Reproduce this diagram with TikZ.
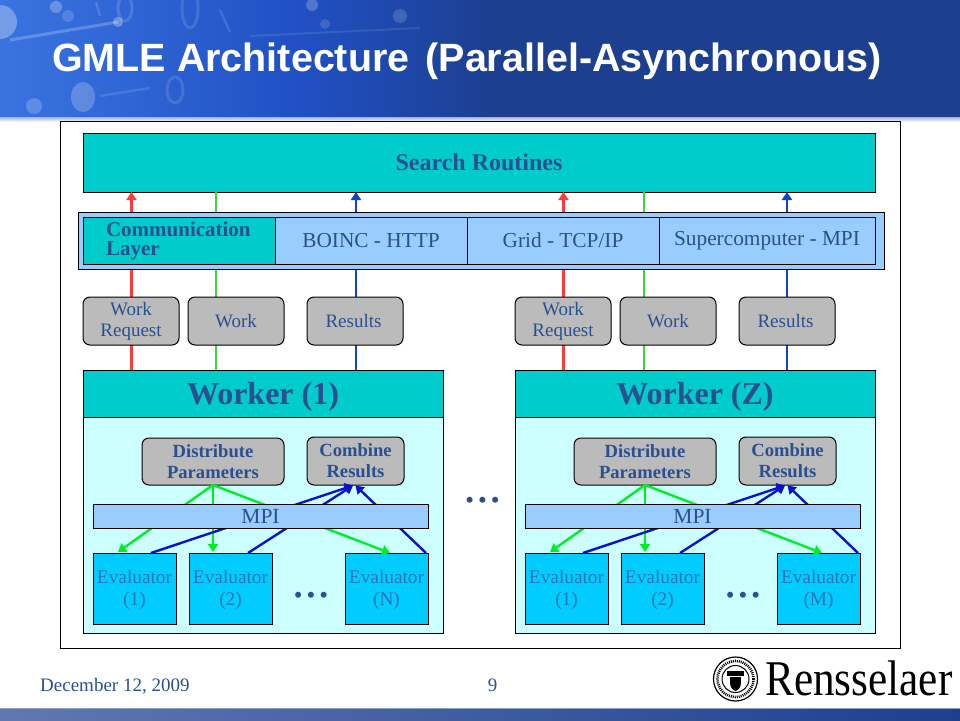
\documentclass[tikz,border=0pt]{standalone}
\usepackage{fontspec}
\setmainfont{Liberation Serif}
\newfontfamily\titlefont{Liberation Sans}
\usetikzlibrary{arrows.meta,calc,fit}
\definecolor{ink}{HTML}{2B4F8F}
\definecolor{evalink}{HTML}{2A74B8}
\definecolor{teal}{HTML}{00CCCC}
\definecolor{pale}{HTML}{CCFFFF}
\definecolor{lblue}{HTML}{99CCFF}
\definecolor{sky}{HTML}{00CCFF}
\definecolor{greybox}{HTML}{BBBBBB}
\definecolor{navy}{HTML}{1C3F8F}
\definecolor{bandleft}{HTML}{3A74E0}
\definecolor{bandmid}{HTML}{2050C4}
\definecolor{redline}{HTML}{FF3B3B}
\definecolor{greenline}{HTML}{33DD33}
\definecolor{blueline}{HTML}{1144CC}
\definecolor{greenarr}{HTML}{00EE22}
\definecolor{bluearr}{HTML}{0A10CC}
\tikzset{
  box/.style={draw=black,line width=1pt,inner sep=0pt,outer sep=0pt,anchor=north west,align=center,text=ink},
  tealbox/.style={box,fill=teal},
  cell/.style={box,fill=lblue,font=\fontsize{21.3}{24}\selectfont},
  pill/.style={box,fill=greybox,rounded corners=7pt,font=\fontsize{19}{21}\selectfont},
  boldpill/.style={pill,font=\fontsize{18.6}{21}\selectfont\bfseries},
  evalbox/.style={box,fill=sky,text=evalink,font=\fontsize{19.3}{22}\selectfont},
  body/.style={box,fill=pale},
  head/.style={tealbox,font=\fontsize{32}{34}\selectfont\bfseries},
  flow/.style={line width=2.4pt},
  tipflow/.style={line width=2.4pt,-{Triangle[length=8pt,width=10pt]}},
  dotrow/.style={text=ink,inner sep=0pt,font=\fontsize{25}{26}\selectfont}
}
\begin{document}
\begin{tikzpicture}[x=1pt,y=-1pt]
\useasboundingbox (0,0) rectangle (960,720);
% title band
\fill[navy] (0,0) rectangle (960,117);
\shade[left color=bandleft,right color=bandmid] (0,0) rectangle (300,117);
\shade[left color=bandmid,right color=navy] (300,0) rectangle (493,117);
\begin{scope}
\clip (0,0) rectangle (493,117);
\fill[white,opacity=.3] (0,22) circle (17);
\fill[white,opacity=.25] (56,7) circle (6);
\fill[white,opacity=.3] (118,22) circle (5);
\fill[white,opacity=.22] (83,97) ellipse (12 and 15);
\fill[white,opacity=.2] (34,106) circle (8);
\fill[white,opacity=.15] (68,16) circle (6);
\fill[white,opacity=.22] (312,5) circle (6);
\fill[white,opacity=.16] (400,16) circle (7);
\fill[white,opacity=.14] (325,24) circle (5);
\draw[white,opacity=.22,line width=3pt] (10,40) -- (118,22);
\draw[white,opacity=.12,line width=3pt] (190,8) ellipse (8 and 20);
\draw[white,opacity=.14,line width=3pt] (125,8) ellipse (7 and 13);
\draw[white,opacity=.12,line width=3pt] (175,90) ellipse (8 and 13);
\draw[white,opacity=.14,line width=2.5pt] (96,2) -- (100,16);
\draw[white,opacity=.12,line width=2.5pt] (220,10) -- (230,32);
\draw[white,opacity=.12,line width=2.5pt] (100,96) -- (150,88);
\draw[white,opacity=.1,line width=2pt] (250,36) -- (420,28);
\end{scope}
\shade[top color=navy!40,bottom color=white] (0,117) rectangle (960,122);
\node[anchor=base west,inner sep=0pt,text=white,font=\titlefont\fontsize{39.45}{41}\selectfont\bfseries] (title) at (52,71) {GMLE Architecture\hspace{.13em} (Parallel-Asynchronous)};
% frame
\node[box,fill=white,minimum width=840pt,minimum height=527pt] (frame) at (60,121) {};
% worker bodies
\node[body,minimum width=360pt,minimum height=216pt] (bodyA) at (83,417) {};
\node[body,minimum width=360pt,minimum height=216pt] (bodyB) at (515,417) {};
% top-level boxes
\node[tealbox,minimum width=792pt,minimum height=59pt,font=\fontsize{24}{26}\selectfont\bfseries] (search) at (83,133) {Search Routines};
\node[head,minimum width=360pt,minimum height=47pt] (workerA) at (83,370) {\raisebox{-2.5pt}[.7em][.2em]{Worker (1)}};
\node[head,minimum width=360pt,minimum height=47pt] (workerB) at (515,370) {\raisebox{-2.5pt}[.7em][.2em]{Worker (Z)}};
% vertical connectors
\foreach \n/\xx/\c/\s in {a/131.5/redline/tipflow,b/216/greenline/flow,c/356/blueline/tipflow,d/563.5/redline/tipflow,e/644/greenline/flow,f/787/blueline/tipflow}{
  \coordinate (t\n) at (\xx,192); \coordinate (u\n) at (\xx,370);
  \draw[\s,\c] (u\n) -- (t\n);
}
% communication layer
\node[box,fill=lblue,minimum width=806pt,minimum height=57pt] (commouter) at (78,212) {};
\node[tealbox,minimum width=192pt,minimum height=47pt,text width=192pt,align=left,font=\fontsize{21}{19}\selectfont\bfseries] (comm) at (83,217) {\hspace*{23pt}Communication\\\hspace*{23pt}Layer};
\node[cell,minimum width=192pt,minimum height=47pt] (boinc) at (275,217) {BOINC - HTTP};
\node[cell,minimum width=192pt,minimum height=47pt] (grid) at (467,217) {Grid - TCP/IP};
\node[cell,minimum width=216pt,minimum height=47pt] (super) at (659,217) {Supercomputer - MPI};
% message pills
\node[pill,minimum width=96pt,minimum height=48pt] (wrA) at (83,297) {Work\\Request};
\node[pill,minimum width=96pt,minimum height=48pt] (wA) at (188,297) {Work};
\node[pill,minimum width=96pt,minimum height=48pt] (rA) at (307,297) {Results\hspace*{3pt}};
\node[pill,minimum width=96pt,minimum height=48pt] (wrB) at (515,297) {Work\\Request};
\node[pill,minimum width=96pt,minimum height=48pt] (wB) at (620,297) {Work};
\node[pill,minimum width=96pt,minimum height=48pt] (rB) at (739,297) {Results\hspace*{3pt}};
% worker internals
\foreach \w/\o/\lab in {A/0/N,B/432/M}{
  \node[boldpill,minimum width=142pt,minimum height=47pt] (dist\w) at (142+\o,438) {Distribute\\Parameters};
  \node[boldpill,minimum width=97pt,minimum height=48pt] (comb\w) at (307+\o,437) {Combine\\Results};
  \node[evalbox,minimum width=83pt,minimum height=71pt] (e1\w) at (93+\o,553) {\rule{0pt}{17pt}Evaluator\\(1)};
  \node[evalbox,minimum width=83pt,minimum height=71pt] (e2\w) at (189+\o,553) {\rule{0pt}{17pt}Evaluator\\(2)};
  \node[evalbox,minimum width=83pt,minimum height=71pt] (e3\w) at (345+\o,553) {\rule{0pt}{17pt}Evaluator\\(\lab)};
  \coordinate (src\w) at (213+\o,485);
  \coordinate (snk\w) at (353+\o,485.5);
  \coordinate (snkb\w) at (355.5+\o,485.5);
  \draw[tipflow,greenarr] (src\w) -- (118+\o,552) coordinate (g1\w);
  \draw[tipflow,greenarr] (src\w) -- (213+\o,552) coordinate (g2\w);
  \draw[tipflow,greenarr] (src\w) -- (390+\o,553) coordinate (g3\w);
  \coordinate (b1\w) at (151+\o,553);
  \coordinate (b2\w) at (248+\o,553);
  \coordinate (b3\w) at (426+\o,553);
  \draw[tipflow,bluearr] (b1\w) -- (snk\w);
  \draw[tipflow,bluearr] (b2\w) -- (snk\w);
  \draw[tipflow,bluearr] (b3\w) -- (snkb\w);
  \node[box,fill=lblue,minimum width=335pt,minimum height=24pt,font=\fontsize{21.5}{23}\selectfont] (mpi\w) at (93+\o,504) {MPI};
}
% ellipses
\node[dotrow] (dotsA) at (311,598) {\textbullet\hspace{4pt}\textbullet\hspace{4pt}\textbullet};
\node[dotrow] (dotsB) at (743,598) {\textbullet\hspace{4pt}\textbullet\hspace{4pt}\textbullet};
\node[dotrow] (dotsC) at (482.5,503) {\textbullet\hspace{4pt}\textbullet\hspace{4pt}\textbullet};
% footer
\node[anchor=base west,inner sep=0pt,text=ink,font=\fontsize{19}{21}\selectfont] (date) at (40,691) {December 12, 2009};
\node[anchor=base,inner sep=0pt,text=ink,font=\fontsize{19}{21}\selectfont] (page) at (492.5,691) {9};
\shade[left color=navy!70!white,right color=navy,middle color=navy!85!white] (0,708) rectangle (960,720);
\draw[navy!50!white,line width=.6pt] (0,708) -- (960,708);
% logo
\draw[black,line width=1.2pt] (735.5,679) circle (22);
\draw[black,line width=2.6pt,dash pattern=on 1pt off 1pt] (735.5,679) circle (18);
\draw[black,line width=1pt] (735.5,679) circle (13.5);
\fill[black] (727,671) rectangle (744,676);
\fill[black] (730,677) rectangle (741,682);
\fill[black] (730,682) .. controls (730,688) and (733,690) .. (735.5,691) .. controls (738,690) and (741,688) .. (741,682) -- cycle;
\node[anchor=base west,inner sep=0pt,text=black,font=\fontsize{50}{52}\selectfont] (rpi) at (765,695) {\scalebox{.865}[1]{Rensselaer}};
\end{tikzpicture}
\end{document}
